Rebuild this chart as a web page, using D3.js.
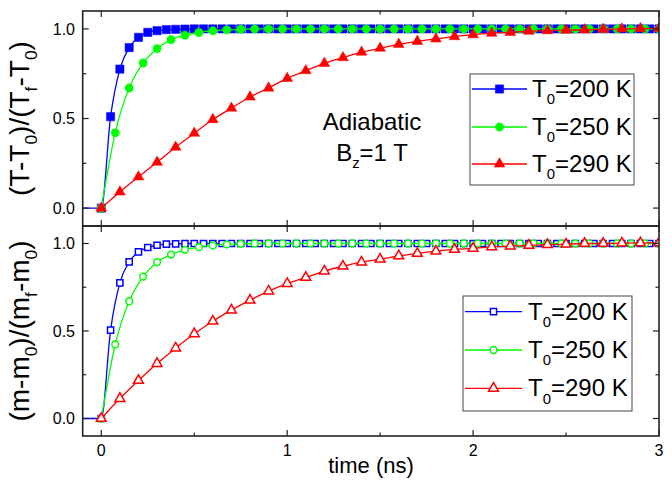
<!DOCTYPE html>
<html>
<head>
<meta charset="utf-8">
<script src="https://cdn.jsdelivr.net/npm/d3@7"></script>
<style>
  body { margin: 0; background: #fff; }
  svg { display: block; font-family: Arial, "Liberation Sans", sans-serif; }
</style>
</head>
<body>
<div id="chart"></div>
<script>
// sampling steps (ns) of each series
const stepBlue = 0.05;
const stepGreen = 0.075;
const stepRed = 0.1;

// top panel: (T-T0)/(Tf-T0)
const tempBlue = [0, 0.51, 0.776, 0.896, 0.953, 0.981, 0.99, 0.996, 0.998, 0.999,
  1, 1, 1, 1, 1, 1, 1, 1, 1, 1, 1, 1, 1, 1, 1, 1, 1, 1, 1, 1, 1, 1, 1, 1, 1, 1,
  1, 1, 1, 1, 1, 1, 1, 1, 1, 1, 1, 1, 1, 1, 1, 1, 1, 1, 1, 1, 1, 1, 1, 1, 1];
const tempGreen = [0, 0.42, 0.67, 0.81, 0.89, 0.94, 0.965, 0.98, 0.99, 0.995, 0.998,
  1, 1, 1, 1, 1, 1, 1, 1, 1, 1, 1, 1, 1, 1, 1, 1, 1, 1, 1, 1, 1, 1, 1, 1, 1, 1, 1, 1, 1, 1];
const tempRed = [0, 0.09, 0.174, 0.256, 0.34, 0.418, 0.494, 0.558, 0.62, 0.67, 0.724,
  0.767, 0.808, 0.84, 0.87, 0.892, 0.914, 0.931, 0.944, 0.957, 0.968, 0.976, 0.981,
  0.987, 0.99, 0.993, 0.995, 0.998, 1.0, 1.002, 1.003];

// bottom panel: (m-m0)/(mf-m0)
const magBlue = [0, 0.505, 0.775, 0.895, 0.952, 0.977, 0.99, 0.996, 0.998, 0.999,
  1, 1, 1, 1, 1, 1, 1, 1, 1, 1, 1, 1, 1, 1, 1, 1, 1, 1, 1, 1, 1, 1, 1, 1, 1, 1,
  1, 1, 1, 1, 1, 1, 1, 1, 1, 1, 1, 1, 1, 1, 1, 1, 1, 1, 1, 1, 1, 1, 1, 1, 1];
const magGreen = [0, 0.423, 0.67, 0.811, 0.893, 0.937, 0.964, 0.979, 0.989, 0.995, 0.998,
  1, 1, 1, 1, 1, 1, 1, 1, 1, 1, 1, 1, 1, 1, 1, 1, 1, 1, 1, 1, 1, 1, 1, 1, 1, 1, 1, 1, 1, 1];
const magRed = [0, 0.114, 0.217, 0.314, 0.402, 0.484, 0.556, 0.619, 0.676, 0.728, 0.771,
  0.806, 0.842, 0.87, 0.893, 0.91, 0.929, 0.943, 0.956, 0.966, 0.972, 0.981, 0.985,
  0.989, 0.993, 0.996, 1.0, 1.0, 1.002, 1.003, 1.003];

const legendLabels = ['200 K', '250 K', '290 K'];
const xTicks = [0, 1, 2, 3];
const xMinor = [0.5, 1.5, 2.5];
const yTicks = [0, 0.5, 1];
const yMinor = [0.25, 0.75];

const width = 672;
const height = 485;
const colors = ['#0000ff', '#00ff00', '#ff0000'];

const svg = d3.select('#chart').append('svg')
  .attr('width', width)
  .attr('height', height);

const x = d3.scaleLinear().domain([-0.1, 3]).range([82.7, 659]);

// write text with subscripts: parts = [[text, isSub], ...]
function subText(sel, parts, size) {
  const sub = size * 0.62;
  const shift = size * 0.3;
  let down = false;
  parts.forEach(([t, isSub]) => {
    const ts = sel.append('tspan').text(t);
    if (isSub) {
      ts.attr('font-size', sub).attr('dy', shift);
      down = true;
    } else {
      ts.attr('font-size', size);
      if (down) { ts.attr('dy', -shift); down = false; }
    }
  });
}

function toSeries(vals, step) {
  return vals.map((v, i) => ({ t: i * step, v }));
}

function drawPanel(cfg) {
  const y = d3.scaleLinear().domain([-0.1, 1.1]).range([cfg.bottom, cfg.top]);
  const g = svg.append('g');
  const clipId = 'clip' + cfg.id;
  svg.append('clipPath').attr('id', clipId)
    .append('rect')
    .attr('x', x.range()[0]).attr('y', cfg.top)
    .attr('width', x.range()[1] - x.range()[0])
    .attr('height', cfg.bottom - cfg.top);

  const plot = g.append('g').attr('clip-path', `url(#${clipId})`);

  const line = d3.line()
    .x(d => x(d.t))
    .y(d => y(d.v))
    .curve(d3.curveMonotoneX);

  const shapes = [d3.symbolSquare, d3.symbolCircle, d3.symbolTriangle];
  const sizes = cfg.filled ? [68, 55, 50] : [38, 36, 42];
  const steps = [stepBlue, stepGreen, stepRed];

  cfg.series.forEach((vals, k) => {
    const pts = toSeries(vals, steps[k]);
    const linePts = k === 0 ? [{ t: -0.1, v: 0 }].concat(pts) : pts;
    plot.append('path')
      .datum(linePts)
      .attr('fill', 'none')
      .attr('stroke', colors[k])
      .attr('stroke-width', 1.3)
      .attr('d', line);
    plot.append('g')
      .selectAll('path')
      .data(pts)
      .join('path')
      .attr('transform', d => `translate(${x(d.t)},${y(d.v)})`)
      .attr('d', d3.symbol(shapes[k], sizes[k]))
      .attr('fill', cfg.filled ? colors[k] : '#fff')
      .attr('stroke', colors[k])
      .attr('stroke-width', cfg.filled ? 0.5 : 1.5);
  });

  // ticks, inward on all four sides
  const axes = g.append('g').attr('stroke', '#222').attr('stroke-width', 1.2);
  const [x0, x1] = x.range();
  const tickX = (vals, len) => {
    vals.forEach(v => {
      axes.append('line').attr('x1', x(v)).attr('x2', x(v))
        .attr('y1', cfg.bottom).attr('y2', cfg.bottom - len);
      axes.append('line').attr('x1', x(v)).attr('x2', x(v))
        .attr('y1', cfg.top).attr('y2', cfg.top + len);
    });
  };
  const tickY = (vals, len) => {
    vals.forEach(v => {
      axes.append('line').attr('x1', x0).attr('x2', x0 + len)
        .attr('y1', y(v)).attr('y2', y(v));
      axes.append('line').attr('x1', x1).attr('x2', x1 - len)
        .attr('y1', y(v)).attr('y2', y(v));
    });
  };
  tickX(xTicks, 6);
  tickX(xMinor, 3.5);
  tickY(yTicks, 6);
  tickY(yMinor, 3.5);

  g.append('rect')
    .attr('x', x0).attr('y', cfg.top)
    .attr('width', x1 - x0).attr('height', cfg.bottom - cfg.top)
    .attr('fill', 'none')
    .attr('stroke', '#222')
    .attr('stroke-width', 1.6);

  g.selectAll('.ylab')
    .data(yTicks)
    .join('text')
    .attr('x', 75)
    .attr('y', d => y(d) + 5.8)
    .attr('text-anchor', 'end')
    .attr('font-size', 16)
    .text(d3.format('.1f'));

  // y title
  const title = g.append('text')
    .attr('transform', `translate(29,${(cfg.top + cfg.bottom) / 2}) rotate(-90)`)
    .attr('text-anchor', 'middle');
  subText(title, cfg.title, 28);

  // legend
  const lg = cfg.legend;
  g.append('rect')
    .attr('x', lg.x).attr('y', lg.y)
    .attr('width', lg.w).attr('height', lg.h)
    .attr('fill', '#fff')
    .attr('stroke', '#444')
    .attr('stroke-width', 1);
  legendLabels.forEach((lab, k) => {
    const ry = lg.rows[k];
    g.append('line')
      .attr('x1', lg.lx0).attr('x2', lg.lx1)
      .attr('y1', ry).attr('y2', ry)
      .attr('stroke', colors[k]).attr('stroke-width', 1.3);
    g.append('path')
      .attr('transform', `translate(${(lg.lx0 + lg.lx1) / 2},${ry})`)
      .attr('d', d3.symbol(shapes[k], sizes[k]))
      .attr('fill', cfg.filled ? colors[k] : '#fff')
      .attr('stroke', colors[k])
      .attr('stroke-width', cfg.filled ? 0.5 : 1.5);
    const t = g.append('text')
      .attr('x', lg.tx)
      .attr('y', ry + 8);
    subText(t, [['T', false], ['0', true], ['=' + lab, false]], 24);
  });
  return y;
}

drawPanel({
  id: 'top', top: 11, bottom: 226, filled: true,
  series: [tempBlue, tempGreen, tempRed],
  title: [['(T-T', false], ['0', true], [')/(T', false], ['f', true], ['-T', false], ['0', true], [')', false]],
  legend: { x: 470, y: 74, w: 164, h: 111, rows: [89, 127, 164], lx0: 472, lx1: 527, tx: 532 }
});

drawPanel({
  id: 'bot', top: 226, bottom: 436, filled: false,
  series: [magBlue, magGreen, magRed],
  title: [['(m-m', false], ['0', true], [')/(m', false], ['f', true], ['-m', false], ['0', true], [')', false]],
  legend: { x: 463, y: 296, w: 169, h: 115, rows: [311.7, 350, 388.3], lx0: 465, lx1: 522, tx: 528 }
});

// x tick labels and title
svg.append('g')
  .selectAll('text')
  .data(xTicks)
  .join('text')
  .attr('x', d => x(d))
  .attr('y', 456)
  .attr('text-anchor', 'middle')
  .attr('font-size', 16)
  .text(d => d);

svg.append('text')
  .attr('x', 371)
  .attr('y', 473)
  .attr('text-anchor', 'middle')
  .attr('font-size', 22)
  .text('time (ns)');

// annotation
svg.append('text')
  .attr('x', 372).attr('y', 130)
  .attr('text-anchor', 'middle')
  .attr('font-size', 24)
  .text('Adiabatic');
const bz = svg.append('text')
  .attr('x', 372).attr('y', 160.5)
  .attr('text-anchor', 'middle');
subText(bz, [['B', false], ['z', true], ['=1 T', false]], 24);
</script>
</body>
</html>
